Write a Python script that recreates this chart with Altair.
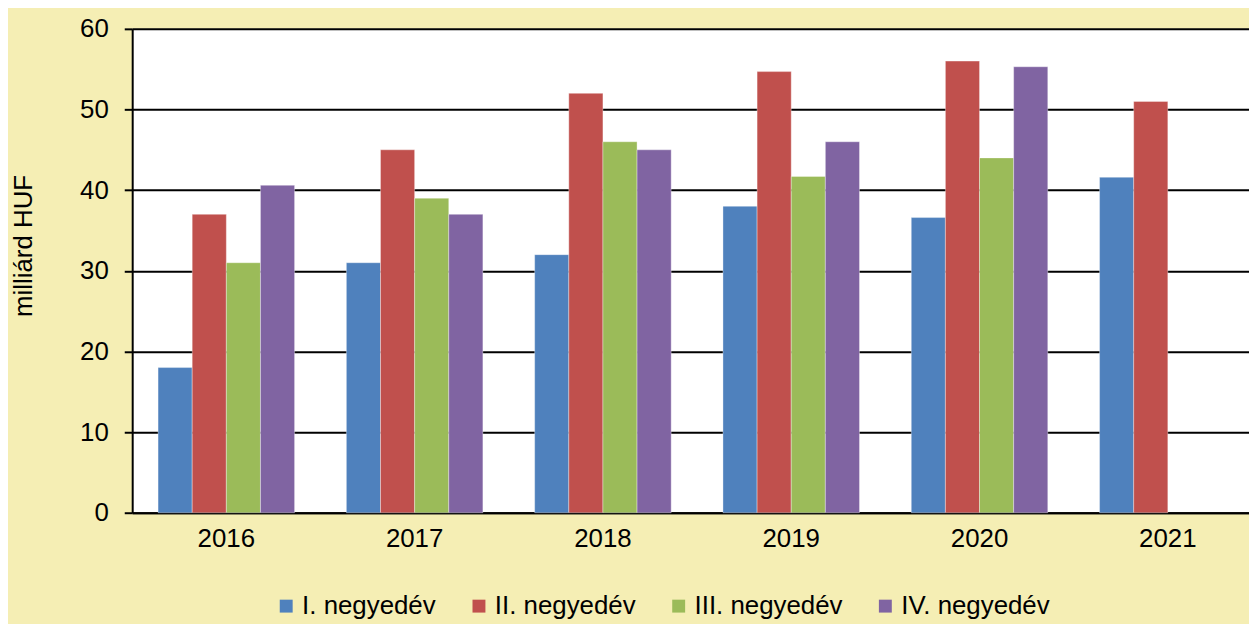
import altair as alt
import pandas as pd

years = ["2016", "2017", "2018", "2019", "2020", "2021"]
quarters = ["I. negyedév", "II. negyedév", "III. negyedév", "IV. negyedév"]
q1 = [18.0, 31.0, 32.0, 38.0, 36.6, 41.6]
q2 = [37.0, 45.0, 52.0, 54.7, 56.0, 51.0]
q3 = [31.0, 39.0, 46.0, 41.7, 44.0, None]
q4 = [40.6, 37.0, 45.0, 46.0, 55.3, None]
colors = ["#4F81BD", "#C0504D", "#9BBB59", "#8064A2"]

rows = []
for q, series in zip(quarters, [q1, q2, q3, q4]):
    for y, v in zip(years, series):
        if v is not None:
            rows.append({"év": y, "negyedév": q, "érték": v})
df = pd.DataFrame(rows)

FONT = "Liberation Sans"

chart = (
    alt.Chart(df)
    .mark_bar(stroke="white", strokeOpacity=0.35, strokeWidth=1)
    .encode(
        x=alt.X(
            "év:N",
            sort=years,
            scale=alt.Scale(paddingInner=0.275, paddingOuter=0.103, align=0.667),
            axis=alt.Axis(
                title=None,
                labelAngle=0,
                ticks=False,
                labelFontSize=26,
                labelPadding=13,
                labelColor="black",
                domainColor="black",
                domainWidth=2,
                grid=False,
            ),
        ),
        xOffset=alt.XOffset("negyedév:N", sort=quarters, scale=alt.Scale(paddingInner=0, paddingOuter=0)),
        y=alt.Y(
            "érték:Q",
            scale=alt.Scale(domain=[0, 60], nice=False),
            axis=alt.Axis(
                title="milliárd HUF",
                values=[0, 10, 20, 30, 40, 50, 60],
                labelFontSize=26,
                labelPadding=16,
                labelColor="black",
                tickSize=8,
                tickWidth=2,
                tickColor="black",
                domainColor="black",
                domainWidth=2,
                gridColor="black",
                gridWidth=2,
                titleFontSize=26,
                titleFontWeight="normal",
                titleColor="black",
                titleX=-109,
                titleY=218,
                titleAngle=-90,
                titleAlign="center",
                titleBaseline="middle",
            ),
        ),
        color=alt.Color(
            "negyedév:N",
            sort=quarters,
            scale=alt.Scale(domain=quarters, range=colors),
            legend=alt.Legend(
                title=None,
                orient="none",
                direction="horizontal",
                columns=4,
                legendX=142,
                legendY=568,
                symbolType="square",
                symbolSize=169,
                symbolStrokeWidth=0,
                labelFontSize=26,
                labelColor="black",
                labelOffset=3,
                columnPadding=30,
            ),
        ),
    )
    .properties(
        width=1124,
        height=487,
        autosize=alt.AutoSizeParams(type="none"),
        padding={"left": 125, "top": 19, "right": 0, "bottom": 110},
        background="#F5EEB4",
    )
    .configure(font=FONT)
    .configure_view(fill="white", stroke=None)
    .configure_axis(labelFont=FONT, titleFont=FONT)
    .configure_legend(labelFont=FONT)
)

chart.save("out.html", embed_options={"renderer": "svg", "actions": False})
